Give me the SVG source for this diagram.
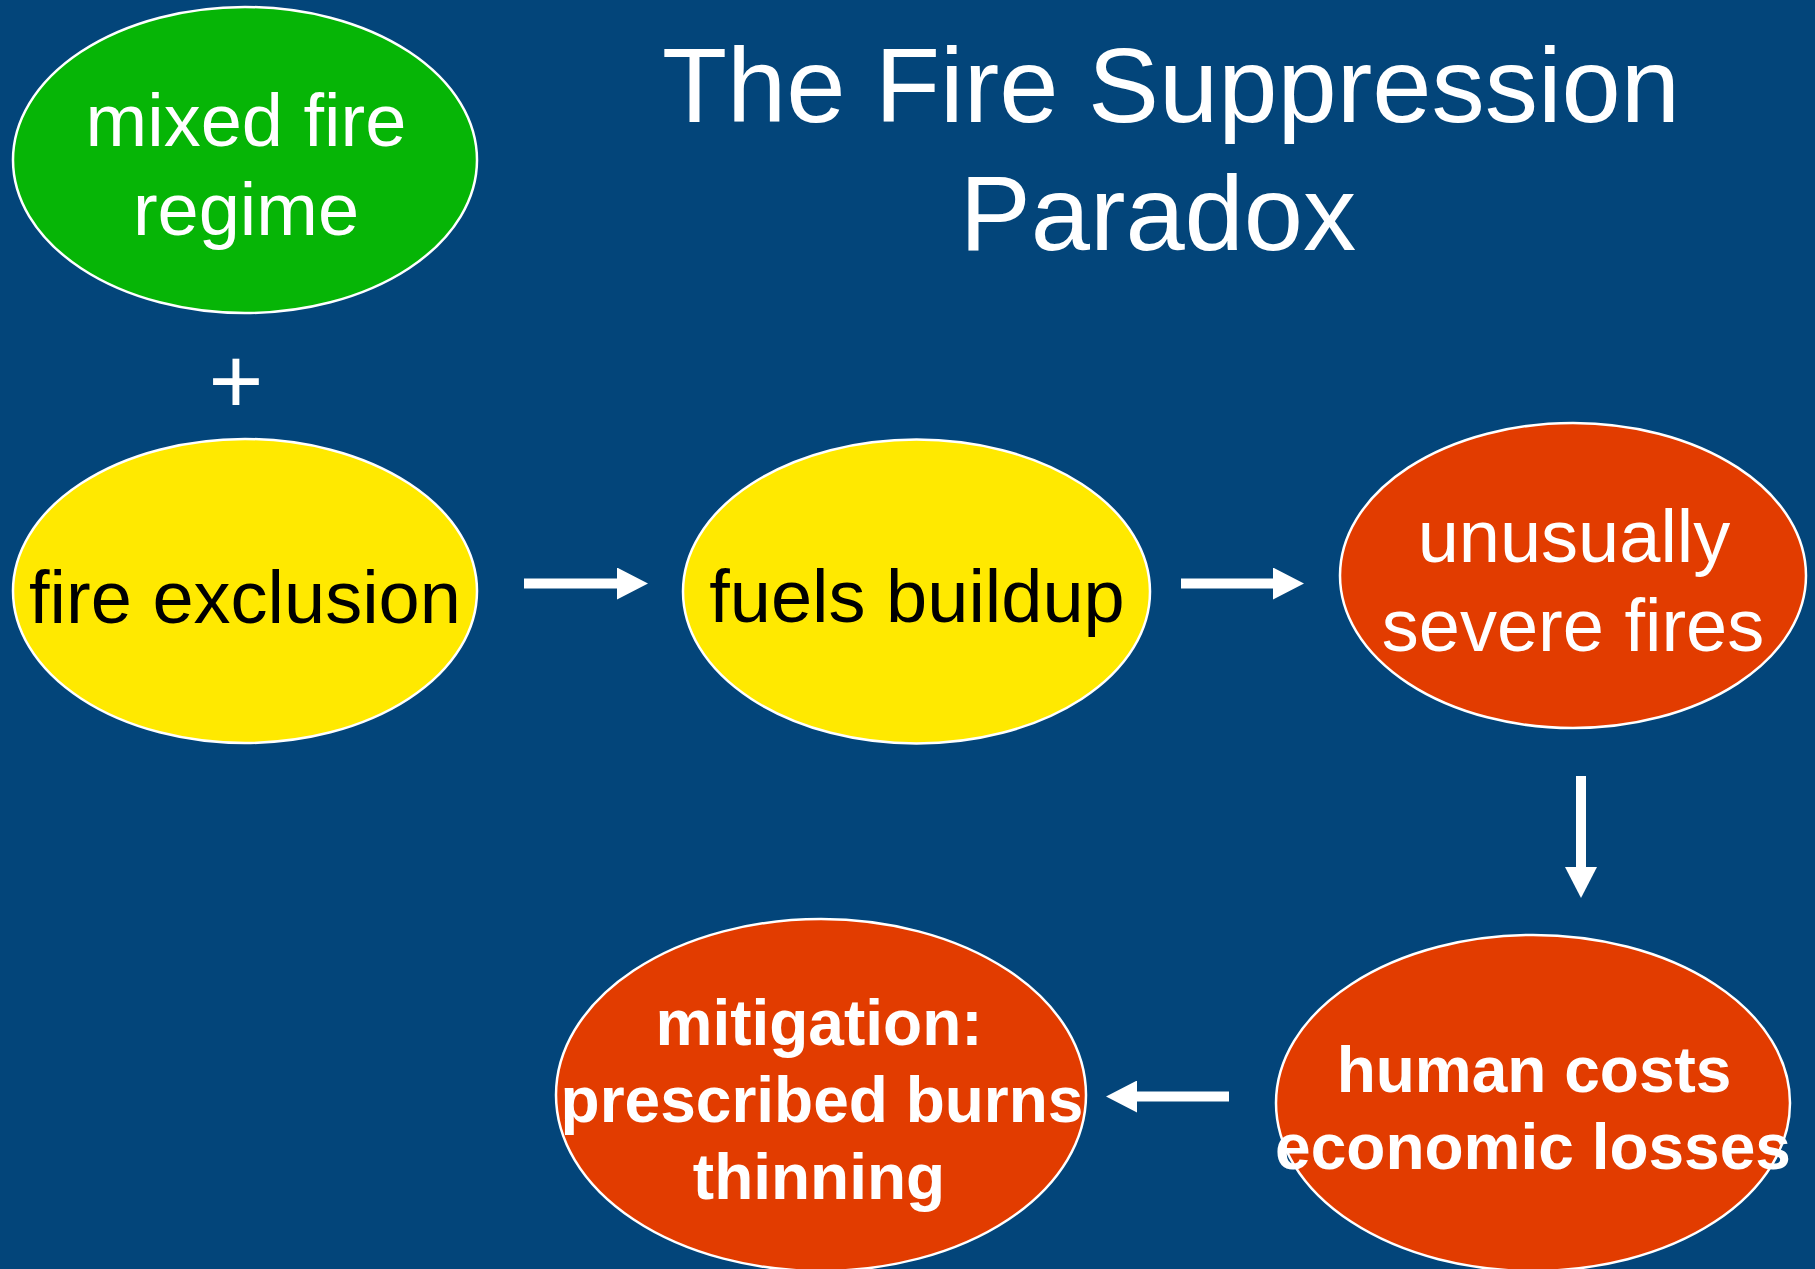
<svg xmlns="http://www.w3.org/2000/svg" width="1815" height="1269" viewBox="0 0 1815 1269">
  <style>
    .node { stroke: #ffffff; stroke-width: 2.5; }
    .green { fill: #06b506; }
    .yellow { fill: #ffe900; }
    .red { fill: #e23c00; }
    .label { font-family: "Liberation Sans", Arial, sans-serif; font-size: 74px; text-anchor: middle; }
    .bold { font-weight: bold; font-size: 64px; }
    .light { fill: #ffffff; }
    .dark { fill: #000000; }
    .title { font-family: "Liberation Sans", Arial, sans-serif; font-size: 106.5px; fill: #ffffff; text-anchor: middle; }
    .conn { stroke: #ffffff; stroke-width: 10; fill: none; }
  </style>
  <defs>
    <marker id="head" markerUnits="userSpaceOnUse" markerWidth="31" markerHeight="32" viewBox="0 0 31 32" refX="0" refY="16" orient="auto">
      <path d="M0,0 L31,16 L0,32 z" fill="#ffffff"/>
    </marker>
  </defs>

  <rect width="1815" height="1269" fill="#03457a"/>

  <g id="title">
    <text class="title" x="1171" y="122">The Fire Suppression</text>
    <text class="title" x="1158" y="250">Paradox</text>
  </g>

  <g id="mixed-fire-regime">
    <ellipse class="node green" cx="245" cy="160" rx="232" ry="153"/>
    <text class="label light" x="246" y="146">mixed fire</text>
    <text class="label light" x="246" y="235">regime</text>
  </g>

  <g id="plus">
    <text class="label light" x="236" y="413" style="font-size:94px">+</text>
  </g>

  <g id="fire-exclusion">
    <ellipse class="node yellow" cx="245" cy="591" rx="232" ry="152"/>
    <text class="label dark" x="245" y="623">fire exclusion</text>
  </g>

  <g id="fuels-buildup">
    <ellipse class="node yellow" cx="916.5" cy="591.5" rx="233.5" ry="152"/>
    <text class="label dark" x="917" y="622">fuels buildup</text>
  </g>

  <g id="severe-fires">
    <ellipse class="node red" cx="1573" cy="575.5" rx="233" ry="152.5"/>
    <text class="label light" x="1574" y="562">unusually</text>
    <text class="label light" x="1573" y="651">severe fires</text>
  </g>

  <g id="costs-losses">
    <ellipse class="node red" cx="1533" cy="1103" rx="257" ry="168"/>
    <text class="label light bold" x="1534" y="1092">human costs</text>
    <text class="label light bold" x="1533" y="1169">economic losses</text>
  </g>

  <g id="mitigation">
    <ellipse class="node red" cx="821" cy="1095" rx="265" ry="176"/>
    <text class="label light bold" x="819" y="1045">mitigation:</text>
    <text class="label light bold" x="822" y="1122">prescribed burns</text>
    <text class="label light bold" x="819" y="1199">thinning</text>
  </g>

  <g id="connectors">
    <line class="conn" x1="524" y1="583.5" x2="617" y2="583.5" marker-end="url(#head)"/>
    <line class="conn" x1="1181" y1="583.5" x2="1273" y2="583.5" marker-end="url(#head)"/>
    <line class="conn" x1="1581" y1="776" x2="1581" y2="867" marker-end="url(#head)"/>
    <line class="conn" x1="1229" y1="1096.5" x2="1137" y2="1096.5" marker-end="url(#head)"/>
  </g>
</svg>
